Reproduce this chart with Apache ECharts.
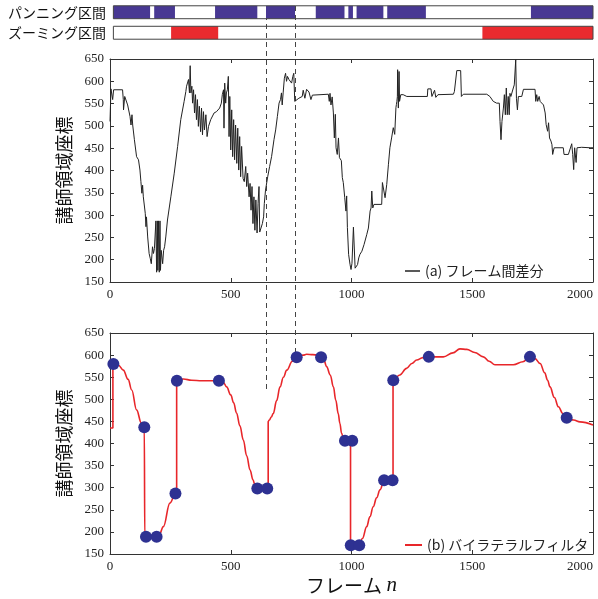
<!DOCTYPE html>
<html><head><meta charset="utf-8">
<script src="https://cdn.jsdelivr.net/npm/echarts@6/dist/echarts.min.js"></script>
<style>html,body{margin:0;padding:0;background:#fff}#c{width:598px;height:599px}</style>
</head><body><div id="c"></div>
<script>
// ---- data ----
const rowNames = ['パンニング区間', 'ズーミング区間'];
const panSegments = [[14,166],[183,269],[435,610],[646,766],[852,971],[987,1006],[1021,1132],[1148,1308],[1743,2000]];
const zoomSegments = [[253,448],[1542,2000]];
const intervalSpan = [14, 2000];
const dashFrames = [646, 766];
const dashEndValues = [520, 595];

const diffName = '(a) フレーム間差分';
const diffData = [
[0,510],[4,583],[11,559],[15,581],[52,581],[55,559],[56,536],[61,566],[73,547],[83,521],[87,502],[91,525],[94,502],
[101,469],[110,431],[118,424],[124,401],[128,375],[132,349],[135,367],[138,341],[146,304],[149,274],[151,296],[156,251],
[162,214],[167,202],[171,191],[176,229],[180,214],[184,225],[187,221],[190,287],[193,172],[196,287],[198,176],[201,287],
[204,172],[207,287],[209,176],[212,221],[218,191],[222,221],[226,229],[231,251],[238,289],[252,341],[266,394],[280,454],
[293,514],[307,555],[314,577],[317,589],[321,592],[325,604],[329,574],[332,635],[335,574],[339,589],[342,551],[346,581],
[350,529],[354,570],[358,514],[362,559],[366,499],[370,544],[375,487],[379,540],[383,480],[387,532],[391,491],[397,525],
[402,476],[408,499],[417,514],[431,529],[441,532],[449,532],[454,540],[461,551],[465,570],[470,581],[472,495],[475,596],
[479,551],[482,574],[486,581],[490,611],[493,476],[496,566],[500,446],[504,536],[508,431],[512,514],[516,424],[520,502],
[525,416],[529,495],[533,401],[537,476],[541,386],[545,454],[551,382],[556,375],[562,409],[566,364],[570,394],[576,341],
[580,371],[584,311],[588,364],[592,281],[596,341],[600,266],[604,334],[609,260],[613,326],[617,364],[620,262],[625,266],
[631,281],[636,296],[639,326],[644,356],[653,386],[661,409],[669,431],[679,469],[686,491],[693,521],[700,551],[706,559],
[710,574],[713,547],[717,574],[722,607],[727,618],[731,600],[735,611],[741,604],[748,600],[752,596],[757,611],[761,618],
[765,555],[771,559],[782,562],[787,560],[796,566],[800,580],[807,562],[814,582],[824,576],[832,559],[838,569],[841,571],
[904,571],[908,555],[911,573],[915,547],[920,565],[925,529],[929,473],[933,526],[936,451],[941,436],[946,473],[950,429],
[958,422],[962,384],[966,373],[972,339],[977,309],[980,343],[983,272],[988,212],[994,189],[998,178],[1002,192],[1008,273],
[1012,273],[1015,181],[1019,178],[1025,189],[1030,204],[1035,212],[1043,219],[1052,234],[1063,256],[1070,271],[1077,309],
[1081,316],[1084,354],[1088,316],[1093,324],[1125,324],[1128,373],[1135,376],[1139,339],[1143,335],[1146,369],[1153,414],
[1159,451],[1166,473],[1173,496],[1179,481],[1183,481],[1184,541],[1186,548],[1188,555],[1190,566],[1191,626],[1194,540],
[1197,622],[1199,555],[1204,570],[1214,570],[1222,571],[1229,566],[1314,566],[1316,583],[1329,583],[1333,566],[1340,564],
[1344,580],[1349,564],[1358,570],[1422,571],[1426,577],[1433,577],[1436,624],[1452,624],[1455,566],[1463,571],[1560,571],
[1573,566],[1587,555],[1601,551],[1612,551],[1615,510],[1619,469],[1623,510],[1629,540],[1633,570],[1637,525],[1641,585],
[1645,525],[1649,566],[1653,525],[1656,573],[1660,566],[1666,570],[1670,585],[1674,592],[1680,648],[1683,562],[1687,536],
[1691,566],[1705,566],[1712,582],[1760,582],[1763,555],[1767,570],[1771,555],[1777,566],[1781,555],[1788,559],[1795,547],
[1802,529],[1806,503],[1812,488],[1816,507],[1820,473],[1826,466],[1830,458],[1833,436],[1839,451],[1877,451],[1880,436],
[1898,436],[1905,440],[1912,460],[1916,436],[1920,402],[1924,451],[1930,418],[1934,451],[1953,452],[1988,451],[2000,451]
];

const filterName = '(b) バイラテラルフィルタ';
const filterData = [
[0,435],[12,435],[12,580],[14,580],[35,577],[55,566],[75,545],[90,521],[110,476],[130,446],[142,437],[144,437],
[144,190],[193,190],[205,195],[221,212],[248,265],[271,287],[276,290],[276,542],[290,545],[304,546],[338,543],[380,542],
[451,542],[470,538],[483,528],[500,510],[512,492],[524,469],[538,440],[552,408],[566,372],[580,340],[592,318],[600,306],
[610,298],[655,298],[655,450],[660,453],[668,460],[676,468],[690,497],[704,528],[718,550],[732,566],[755,586],[773,595],
[800,600],[814,602],[840,601],[860,600],[874,595],[885,590],[897,574],[912,555],[925,528],[935,498],[945,468],[952,445],
[959,423],[966,412],[973,406],[996,406],[996,170],[1032,170],[1045,185],[1063,212],[1076,234],[1090,257],[1104,277],
[1118,295],[1135,317],[1172,317],[1172,543],[1200,555],[1228,570],[1250,581],[1270,589],[1295,594],[1320,596],[1380,596],
[1420,605],[1449,614],[1477,613],[1510,606],[1546,596],[1570,586],[1594,578],[1670,578],[1710,585],[1739,596],[1760,592],
[1781,581],[1800,560],[1812,543],[1822,528],[1840,504],[1857,483],[1875,468],[1891,458],[1920,453],[1946,449],[2000,442]
];
const keyPoints = [
[14,580],[142,437],[149,189],[193,189],[271,287],[277,542],[451,542],[610,298],[651,298],[773,595],[874,595],
[973,406],[1003,406],[997,170],[1032,170],[1135,317],[1170,317],[1173,543],[1320,596],[1739,596],[1891,458]
];

const xTicks = {min:0, max:2000, interval:500};
const yTicks = {min:150, max:650, interval:50};
const yName = '講師領域座標';

// ---- chart ----
const chart = echarts.init(document.getElementById('c'), null, {renderer:'canvas'});
const serif = 'Liberation Serif';
const jp = 'Noto Sans CJK JP';
const axisCol = '#333';
const plain = v => String(v);

function valX(grid, pos, labels, name){
  return {
    type:'value', gridIndex:grid, position:pos, min:xTicks.min, max:xTicks.max, interval:xTicks.interval,
    axisLine:{show:true, onZero:false, lineStyle:{color:axisCol, width:1}},
    axisTick:{show:true, inside:true, length:4, lineStyle:{color:axisCol}},
    axisLabel:{show:labels, fontFamily:serif, fontSize:13, color:'#222', margin:6, alignMaxLabel:'right', formatter:plain},
    splitLine:{show:false},
    name: name || '', nameLocation:'middle', nameGap:21,
    nameTextStyle:{fontFamily:jp, fontSize:19, color:'#111',
      rich:{a:{fontFamily:jp, fontSize:19, color:'#111'}, n:{fontFamily:serif, fontStyle:'italic', fontSize:21, color:'#111'}}}
  };
}
function valY(grid, pos, labels, withName){
  return {
    type:'value', gridIndex:grid, position:pos, min:yTicks.min, max:yTicks.max, interval:yTicks.interval,
    axisLine:{show:true, onZero:false, lineStyle:{color:axisCol, width:1}},
    axisTick:{show:true, inside:true, length:4, lineStyle:{color:axisCol}},
    axisLabel:{show:labels, fontFamily:serif, fontSize:13, color:'#222', margin:6, formatter:plain},
    splitLine:{show:false},
    name: withName ? yName : '', nameLocation:'middle', nameGap:27, nameRotate:90,
    nameTextStyle:{fontFamily:jp, fontSize:18, color:'#111'}
  };
}
function segRender(color){
  return function(params, api){
    const s = api.coord([api.value(0), api.value(2)]);
    const e = api.coord([api.value(1), api.value(2)]);
    const h = api.size([0,1])[1] * 0.63;
    return {type:'rect', shape:{x:s[0], y:s[1]-h/2, width:e[0]-s[0], height:h},
      style: color ? {fill:color} : {fill:'none', stroke:'#444', lineWidth:1}};
  };
}

const option = {
  animation:false,
  backgroundColor:'#fff',
  grid:[
    {left:110, right:5, top:2, height:41},
    {left:110, right:5, top:59, height:223},
    {left:110, right:5, top:333, height:221}
  ],
  xAxis:[
    {type:'value', gridIndex:0, min:xTicks.min, max:xTicks.max, show:false},
    valX(1,'bottom',true),
    valX(1,'top',false),
    valX(2,'bottom',true,'{a|フレーム }{n|n}'),
    valX(2,'top',false)
  ],
  yAxis:[
    {type:'category', gridIndex:0, data:rowNames, inverse:true,
     axisLine:{show:false}, axisTick:{show:false},
     axisLabel:{fontFamily:jp, fontSize:14, color:'#111', margin:4}},
    valY(1,'left',true,true),
    valY(1,'right',false,false),
    valY(2,'left',true,true),
    valY(2,'right',false,false)
  ],
  legend:[
    {data:[{name:diffName, icon:'rect'}], left:400, top:259, itemWidth:15, itemHeight:1.5, itemGap:4,
     textStyle:{fontFamily:jp, fontSize:14, color:'#222'}},
    {data:[{name:filterName, icon:'rect'}], left:400, top:533, itemWidth:17, itemHeight:2, itemGap:4,
     textStyle:{fontFamily:jp, fontSize:14, color:'#222'}}
  ],
  series:[
    {type:'custom', name:'pan', xAxisIndex:0, yAxisIndex:0, renderItem:segRender('#483893'),
     encode:{x:[0,1], y:2}, data:panSegments.map(s=>[s[0],s[1],0])},
    {type:'custom', name:'zoom', xAxisIndex:0, yAxisIndex:0, renderItem:segRender('#EA2A2E'),
     encode:{x:[0,1], y:2}, data:zoomSegments.map(s=>[s[0],s[1],1])},
    {type:'custom', name:'frame', xAxisIndex:0, yAxisIndex:0, renderItem:segRender(null),
     encode:{x:[0,1], y:2}, data:[[intervalSpan[0],intervalSpan[1],0],[intervalSpan[0],intervalSpan[1],1]]},
    {type:'line', name:diffName, xAxisIndex:1, yAxisIndex:1, data:diffData, symbol:'none',
     lineStyle:{color:'#222', width:1}, itemStyle:{color:'#222'}},
    {type:'line', name:filterName, xAxisIndex:3, yAxisIndex:3, data:filterData, symbol:'none',
     smooth:0.4, smoothMonotone:'x',
     lineStyle:{color:'#E8262A', width:1.6}, itemStyle:{color:'#E8262A'}},
    {type:'scatter', name:'key', xAxisIndex:3, yAxisIndex:3, data:keyPoints, symbolSize:12,
     itemStyle:{color:'#2E3192', opacity:1}, z:5}
  ]
};
chart.setOption(option);

const g = [];
dashFrames.forEach((f, i) => {
  const x = Math.round(chart.convertToPixel({xAxisIndex:1}, f)) + 0.5;
  const yEnd = chart.convertToPixel({yAxisIndex:3}, dashEndValues[i]);
  g.push({type:'line', z:1, shape:{x1:x, y1:6, x2:x, y2:yEnd},
    style:{stroke:'#444', lineWidth:1, lineDash:[5,4]}});
});
chart.setOption({graphic:g});
</script></body></html>
